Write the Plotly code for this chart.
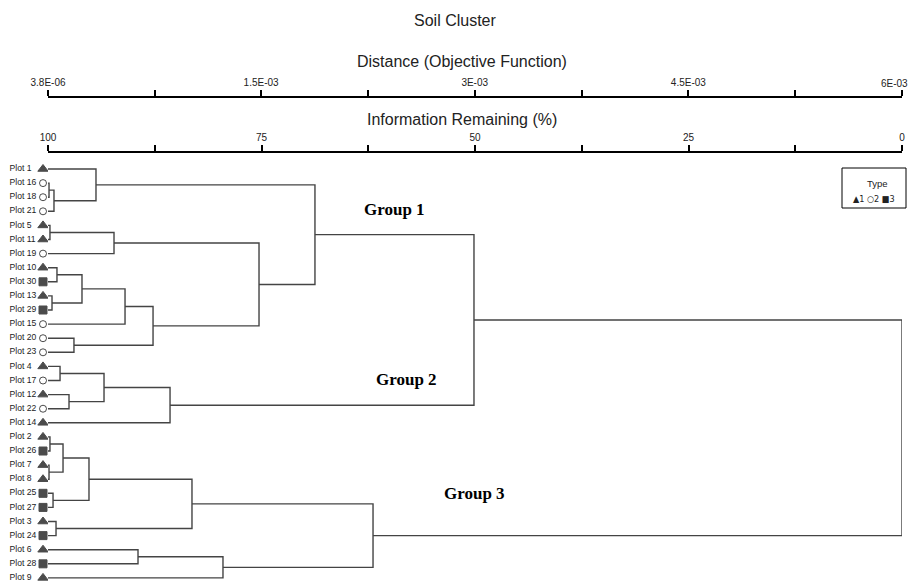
import plotly.graph_objects as go

# ---------------- data ----------------
leaf_labels = ["Plot 1", "Plot 16", "Plot 18", "Plot 21", "Plot 5", "Plot 11", "Plot 19",
               "Plot 10", "Plot 30", "Plot 13", "Plot 29", "Plot 15", "Plot 20", "Plot 23",
               "Plot 4", "Plot 17", "Plot 12", "Plot 22", "Plot 14", "Plot 2", "Plot 26",
               "Plot 7", "Plot 8", "Plot 25", "Plot 27", "Plot 3", "Plot 24", "Plot 6",
               "Plot 28", "Plot 9"]
leaf_types = [1, 2, 2, 2, 1, 1, 2, 1, 3, 1, 3, 2, 2, 2, 1, 2, 1, 2, 1, 1, 3, 1, 1, 3, 3, 1, 3, 1, 3, 1]

# merges: left node, right node, information remaining (%) at the join
merge_left = ["Plot 16", "M0", "Plot 1", "Plot 5", "M3", "Plot 10", "Plot 13", "M5", "M7",
              "Plot 20", "M8", "M4", "M2", "Plot 4", "Plot 12", "M13", "M15", "M12",
              "Plot 2", "Plot 7", "M18", "Plot 25", "M20", "Plot 3", "M22", "Plot 6", "M25",
              "M24", "M17"]
merge_right = ["Plot 18", "Plot 21", "M1", "Plot 11", "Plot 19", "Plot 30", "Plot 29", "M6",
               "Plot 15", "Plot 23", "M9", "M10", "M11", "Plot 17", "Plot 22", "M14", "Plot 14",
               "M16", "Plot 26", "Plot 8", "M19", "Plot 27", "M21", "Plot 24", "M23", "Plot 28",
               "Plot 9", "M26", "M27"]
merge_info = [99.88, 99.30, 94.38, 99.77, 92.27, 98.95, 99.53, 96.02, 90.98, 96.96, 87.70,
              75.29, 68.74, 98.59, 97.54, 93.44, 85.71, 50.12, 99.77, 99.88, 98.24, 99.41,
              95.20, 99.06, 83.14, 89.46, 79.51, 61.94, 0.0]

info_ticks = [100, 75, 50, 25, 0]
info_minor = [87.5, 62.5, 37.5, 12.5]
dist_min, dist_max = 3.8e-06, 6e-03
dist_ticks = [3.8e-06, 1.5e-03, 3e-03, 4.5e-03, 6e-03]
dist_ticktext = ["3.8E-06", "1.5E-03", "3E-03", "4.5E-03", "6E-03"]

group_names = ["Group 1", "Group 2", "Group 3"]
group_x = [59.4, 58.0, 50.1]
group_y = [3.84, 15.96, 23.98]

type_names = ["1", "2", "3"]
type_symbols = {1: "triangle-up", 2: "circle-open", 3: "square"}
type_glyphs = {1: "\u25B2", 2: "\u25CB", 3: "\u25A0"}
type_sizes = {1: 9, 2: 7, 3: 8}

# ---------------- layout constants (pixels) ----------------
W, H = 911, 583
AX_LEFT, AX_RIGHT = 48, 902
AX_DIST_PX, AX_INFO_PX = 97, 153

def px_x(p):
    return p / W

def px_y(p):
    return (H - p) / H

FONT = "Liberation Sans Narrow, Arial Narrow, Liberation Sans, Arial, sans-serif"
TXT = "#222"
LINEC = "#444444"

# ---------------- dendrogram geometry ----------------
pos = {}
for i, lab in enumerate(leaf_labels):
    pos[lab] = (100.0, i + 1)
xs, ys = [], []
for k, (a, b, h) in enumerate(zip(merge_left, merge_right, merge_info)):
    xa, ya = pos[a]
    xb, yb = pos[b]
    xs += [xa, h, h, xb, None]
    ys += [ya, ya, yb, yb, None]
    pos["M%d" % k] = (h, (ya + yb) / 2)

rows = list(range(1, len(leaf_labels) + 1))

fig = go.Figure()
fig.add_trace(go.Scatter(x=xs, y=ys, mode="lines",
                         line=dict(color=LINEC, width=1.4),
                         hoverinfo="skip", showlegend=False))
fig.add_trace(go.Scatter(x=[dist_min, dist_max], y=[None, None], xaxis="x2", yaxis="y",
                         mode="markers", showlegend=False, hoverinfo="skip"))
# label column (its own x axis, in pixel units, left of the tree)
fig.add_trace(go.Scatter(x=[43] * len(rows), y=rows, xaxis="x3", yaxis="y", mode="markers",
                         marker=dict(symbol=[type_symbols[t] for t in leaf_types],
                                     size=[type_sizes[t] for t in leaf_types],
                                     color="black", line=dict(color="black", width=1)),
                         hoverinfo="skip", showlegend=False))
fig.add_trace(go.Scatter(x=[9.5] * len(rows), y=rows, xaxis="x3", yaxis="y", mode="text",
                         text=leaf_labels, textposition="middle right",
                         textfont=dict(family=FONT, size=8.6, color=TXT),
                         hoverinfo="skip", showlegend=False, cliponaxis=False))

for name, gx, gy in zip(group_names, group_x, group_y):
    fig.add_annotation(x=gx, y=gy, xref="x", yref="y", text="<b>%s</b>" % name,
                       showarrow=False, xanchor="center", yanchor="middle",
                       font=dict(family="Liberation Serif, Times New Roman, serif", size=17,
                                 color="black"))

axis_common = dict(showgrid=False, zeroline=False, showline=True, linewidth=2,
                   linecolor="black", ticks="outside", ticklen=6, tickwidth=1.5,
                   tickcolor="black", tickfont=dict(family=FONT, size=10, color=TXT),
                   fixedrange=True, automargin=False, ticklabeloverflow="allow")
minor_common = dict(ticks="outside", ticklen=6, tickwidth=1.5, tickcolor="black", showgrid=False)

# the last distance label sits at the page edge, so it is drawn right-aligned below
dist_axis_text = dist_ticktext[:-1] + [""]

fig.update_layout(
    width=W, height=H,
    margin=dict(l=0, r=0, t=0, b=0, autoexpand=False),
    paper_bgcolor="white", plot_bgcolor="white",
    showlegend=False,
    xaxis=dict(range=[100, 0], domain=[px_x(AX_LEFT), px_x(AX_RIGHT)], anchor="y",
               side="top", tickvals=info_ticks, ticktext=[str(v) for v in info_ticks],
               minor=dict(tickvals=info_minor, **minor_common), **axis_common),
    xaxis2=dict(range=[dist_min, dist_max], anchor="free", position=px_y(AX_DIST_PX),
                side="top", overlaying="x", tickvals=dist_ticks, ticktext=dist_axis_text,
                minor=dict(tickvals=[dist_min + f * (dist_max - dist_min)
                                     for f in (0.125, 0.375, 0.625, 0.875)], **minor_common),
                **axis_common),
    xaxis3=dict(range=[0, AX_LEFT], domain=[0, px_x(AX_LEFT)], anchor="y", visible=False,
                fixedrange=True),
    yaxis=dict(range=[30.36, -0.135], domain=[0, px_y(AX_INFO_PX)], visible=False,
               fixedrange=True),
)

def paper_text(x, y, text, size, family=FONT, xanchor="center"):
    fig.add_annotation(x=px_x(x), y=px_y(y), xref="paper", yref="paper", text=text,
                       showarrow=False, xanchor=xanchor, yanchor="middle",
                       font=dict(family=family, size=size, color=TXT))

paper_text(455, 20, "Soil Cluster", 16)
paper_text(462, 61, "Distance (Objective Function)", 16)
paper_text(462, 119, "Information Remaining (%)", 16)
paper_text(910, 83, dist_ticktext[-1], 10, xanchor="right")

# legend box
fig.add_shape(type="rect", xref="paper", yref="paper", x0=px_x(842), x1=px_x(906),
              y0=px_y(208), y1=px_y(168), line=dict(color="black", width=1),
              fillcolor="white")
paper_text(877, 183, "Type", 9.5)
legend_text = "\u00a0".join(type_glyphs[i + 1] + n for i, n in enumerate(type_names))
paper_text(874, 199, legend_text, 9, family="DejaVu Sans Condensed, DejaVu Sans, sans-serif")

fig.write_html("out.html", post_script="document.body.style.margin='0';",
               config={"displayModeBar": False})
